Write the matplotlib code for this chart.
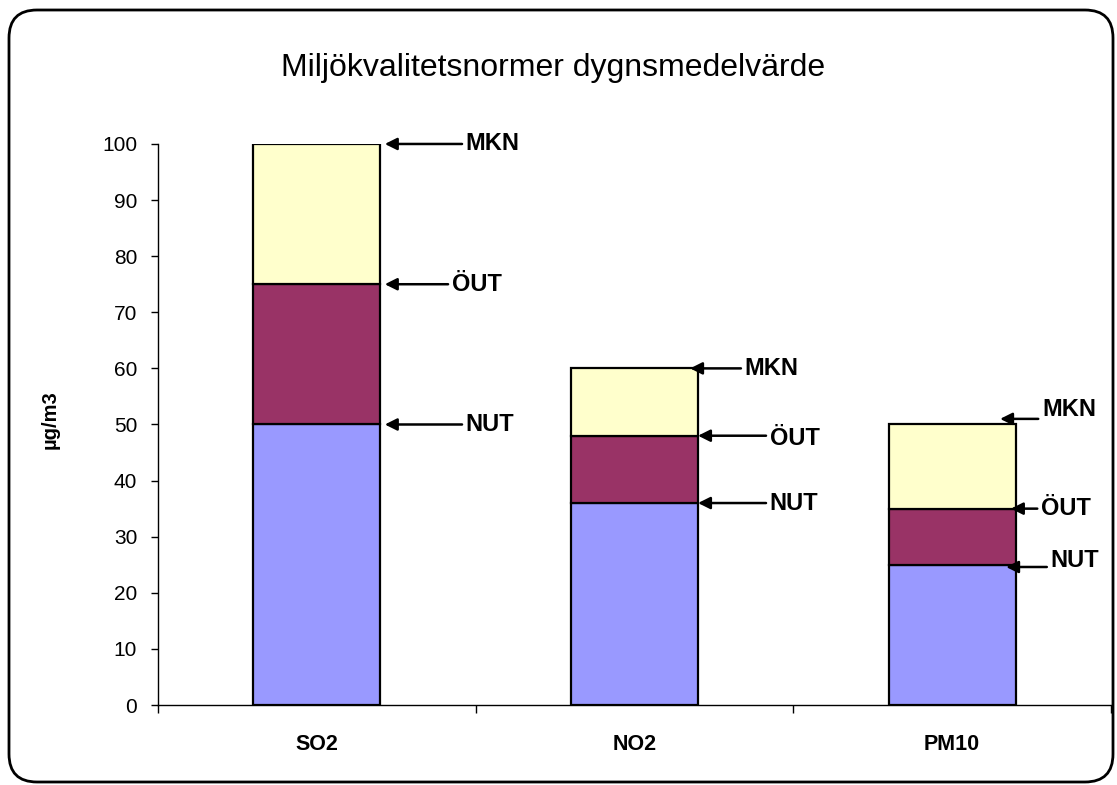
import numpy as np
import matplotlib.pyplot as plt
from matplotlib.patches import FancyBboxPatch
from matplotlib.transforms import IdentityTransform

# Data
kategorier = ['SO2', 'NO2', 'PM10']
nut = [50, 36, 25]   # nedre utvarderingstroskel
out = [25, 12, 10]   # ovre utvarderingstroskel (okning)
mkn = [25, 12, 15]   # miljokvalitetsnorm (okning)
nivaer = ['NUT', 'ÖUT', 'MKN']
farger = ['#9999FF', '#993366', '#FFFFCC']

plt.rcParams['font.family'] = ['Liberation Sans', 'DejaVu Sans']

fig = plt.figure(figsize=(11.17, 7.85), dpi=100)
ax = fig.add_axes([0.1415, 0.1019, 0.8531, 0.7147])

x = np.arange(len(kategorier))
bredd = 0.4
botten = np.zeros(len(kategorier))
for serie, farg in zip([nut, out, mkn], farger):
    ax.bar(x, serie, bredd, bottom=botten, color=farg, edgecolor='black', linewidth=1.6, zorder=2)
    botten = botten + np.array(serie)

# Pilar med etiketter (NUT, OUT, MKN)
nivavarden = np.cumsum([nut, out, mkn], axis=0)  # rader: NUT, OUT, MKN
pil_spets = [[0.214, 0.214, 0.214], [1.2, 1.2, 1.175], [2.17, 2.185, 2.151]]
text_x = [[0.469, 0.425, 0.469], [1.426, 1.426, 1.347], [2.31, 2.28, 2.283]]
pil_dy = [[0, 0, 0], [0, 0, 0], [-0.4, 0, 1.0]]
text_dy = [[0, 0, 0], [0, -0.5, 0], [0.7, 0, 2.6]]
for i in range(len(kategorier)):
    for j, namn in enumerate(nivaer):
        y = nivavarden[j][i]
        ax.annotate('', xy=(pil_spets[i][j], y + pil_dy[i][j]),
                    xytext=(text_x[i][j] - 0.012, y + pil_dy[i][j]),
                    arrowprops=dict(arrowstyle='-|>', color='black', lw=1.8,
                                    mutation_scale=18, shrinkA=0, shrinkB=0),
                    annotation_clip=False, zorder=3)
        ax.text(text_x[i][j], y + text_dy[i][j], namn, ha='left', va='center',
                fontsize=17, fontweight='bold', zorder=4)

ax.set_xlim(-0.5, 2.5)
ax.set_ylim(0, 100)
ax.set_yticks(np.arange(0, 101, 10))
ax.tick_params(axis='y', direction='out', length=5, width=1, labelsize=15, pad=10)
ax.set_xticks(x)
ax.set_xticklabels(kategorier, fontsize=15.5, fontweight='bold')
ax.tick_params(axis='x', which='major', length=0, pad=21)
ax.set_xticks([-0.5, 0.5, 1.5, 2.5], minor=True)
ax.tick_params(axis='x', which='minor', direction='out', length=6, width=1)
for s in ['top', 'right']:
    ax.spines[s].set_visible(False)
ax.spines['left'].set_linewidth(1)
ax.spines['bottom'].set_linewidth(1)

ax.set_ylabel('µg/m3', fontsize=14.5, fontweight='bold')
ax.yaxis.set_label_coords(-0.103, 0.508)

fig.text(0.495, 0.913, 'Miljökvalitetsnormer dygnsmedelvärde', ha='center', va='center', fontsize=23)

# Rundad ram runt diagrammet
ram = FancyBboxPatch((9, 3), 1104, 772, boxstyle='round,pad=0,rounding_size=28',
                     transform=IdentityTransform(), fill=False, edgecolor='black', linewidth=2)
fig.patches.append(ram)

fig.savefig('out.png', dpi=100)
